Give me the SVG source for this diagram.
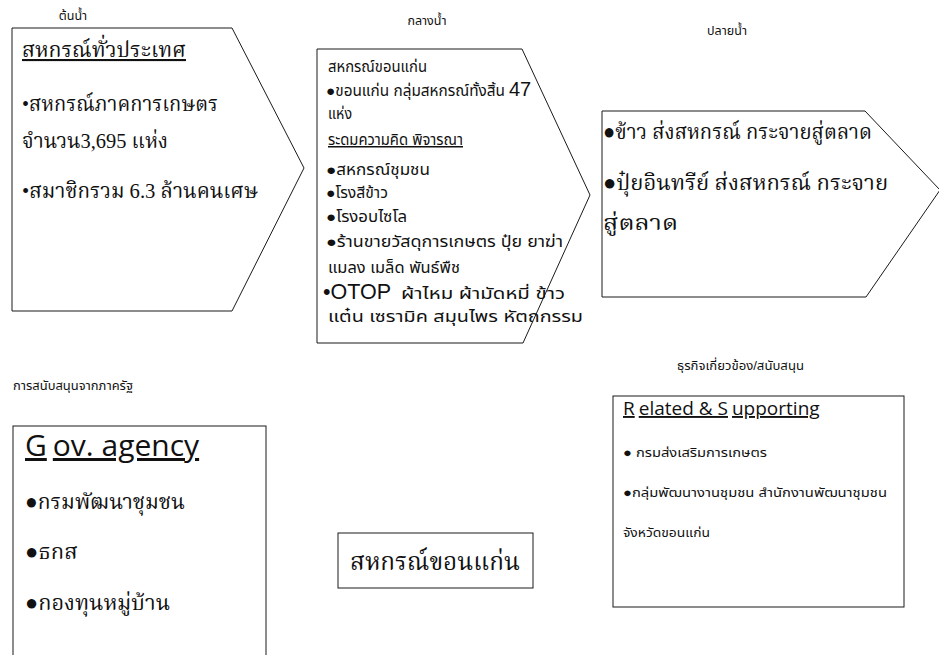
<svg xmlns="http://www.w3.org/2000/svg" width="939" height="655" viewBox="0 0 939 655">
<style>
.shape{fill:#fff;stroke:#1a1a1a;stroke-width:1}
.serif{font-family:"Liberation Serif","Norasi","Noto Serif Thai","Noto Sans",serif;fill:#111}
.sans{font-family:"Liberation Sans","Noto Sans Thai","Noto Sans",sans-serif;fill:#111}
.cal{font-family:"Open Sans","Liberation Sans",sans-serif;fill:#111}
.lbl{font-size:12.5px}
.u{text-decoration:underline}
</style>
<rect width="939" height="655" fill="#fff"/>
<g id="connectors"/>
<g id="upstream">
<text class="sans lbl" x="73" y="20" text-anchor="middle">ต้นน้ำ</text>
<path class="shape" d="M12,28 H232 L304,168 L232,311 H12 Z"/>
<text class="serif u" x="22" y="57" font-size="21" textLength="164" lengthAdjust="spacingAndGlyphs">สหกรณ์ทั่วประเทศ</text>
<text class="serif" x="22" y="111" font-size="21" textLength="196" lengthAdjust="spacingAndGlyphs">•สหกรณ์ภาคการเกษตร</text>
<text class="serif" x="22" y="148" font-size="21" textLength="146" lengthAdjust="spacingAndGlyphs">จำนวน3,695 แห่ง</text>
<text class="serif" x="22" y="198" font-size="21" textLength="236" lengthAdjust="spacingAndGlyphs">•สมาชิกรวม 6.3 ล้านคนเศษ</text>
</g>
<g id="midstream">
<text class="sans lbl" x="427" y="25" text-anchor="middle">กลางน้ำ</text>
<path class="shape" d="M317,49 H522 L590,195 L523,343 H317 Z"/>
<g class="sans" font-size="15">
<text x="328" y="72" textLength="99" lengthAdjust="spacingAndGlyphs">สหกรณ์ขอนแก่น</text>
<text x="326" y="96"><tspan textLength="179" lengthAdjust="spacingAndGlyphs">●ขอนแก่น กลุ่มสหกรณ์ทั้งสิ้น</tspan><tspan x="509" font-size="20">47</tspan></text>
<text x="328" y="119" textLength="24" lengthAdjust="spacingAndGlyphs">แห่ง</text>
<text x="328" y="145" class="u" textLength="135" lengthAdjust="spacingAndGlyphs">ระดมความคิด พิจารณา</text>
<text x="326" y="175" textLength="104" lengthAdjust="spacingAndGlyphs">●สหกรณ์ชุมชน</text>
<text x="326" y="198" textLength="62" lengthAdjust="spacingAndGlyphs">●โรงสีข้าว</text>
<text x="326" y="222" textLength="81" lengthAdjust="spacingAndGlyphs">●โรงอบไซโล</text>
<text x="326" y="247" textLength="237" lengthAdjust="spacingAndGlyphs">●ร้านขายวัสดุการเกษตร ปุ๋ย ยาฆ่า</text>
<text x="328" y="273" textLength="132" lengthAdjust="spacingAndGlyphs">แมลง เมล็ด พันธ์พืช</text>
<text x="323" y="299"><tspan font-size="21.5">•OTOP</tspan><tspan x="401" textLength="164" lengthAdjust="spacingAndGlyphs">ผ้าไหม ผ้ามัดหมี่ ข้าว</tspan></text>
<text x="328" y="322" textLength="255" lengthAdjust="spacingAndGlyphs">แต๋น เซรามิค สมุนไพร หัตถกรรม</text>
</g>
</g>
<g id="downstream">
<text class="sans lbl" x="727" y="35" text-anchor="middle">ปลายน้ำ</text>
<path class="shape" d="M602,111 H865 L940,190 L866,297 H602 Z"/>
<text class="serif" x="603" y="139" font-size="22" textLength="269" lengthAdjust="spacingAndGlyphs">●ข้าว ส่งสหกรณ์ กระจายสู่ตลาด</text>
<text class="serif" x="603" y="190" font-size="22" textLength="285" lengthAdjust="spacingAndGlyphs">●ปุ๋ยอินทรีย์ ส่งสหกรณ์ กระจาย</text>
<text class="serif" x="603" y="230" font-size="22" textLength="75" lengthAdjust="spacingAndGlyphs">สู่ตลาด</text>
</g>
<g id="gov">
<text class="sans lbl" x="13" y="390" textLength="120" lengthAdjust="spacingAndGlyphs">การสนับสนุนจากภาครัฐ</text>
<rect class="shape" x="13" y="426" width="253" height="240"/>
<text class="cal u" x="25" y="456" font-size="30"><tspan>G</tspan><tspan dx="6">ov. agency</tspan></text>
<text class="serif" x="25" y="509" font-size="22" textLength="160" lengthAdjust="spacingAndGlyphs">●กรมพัฒนาชุมชน</text>
<text class="serif" x="25" y="559" font-size="22">●ธกส</text>
<text class="serif" x="25" y="610" font-size="22" textLength="145" lengthAdjust="spacingAndGlyphs">●กองทุนหมู่บ้าน</text>
</g>
<g id="khonkaen">
<rect class="shape" x="338" y="533" width="195" height="55"/>
<text class="serif" x="350" y="570" font-size="25" textLength="170" lengthAdjust="spacingAndGlyphs">สหกรณ์ขอนแก่น</text>
</g>
<g id="related">
<text class="sans lbl" x="677" y="370" textLength="127" lengthAdjust="spacingAndGlyphs">ธุรกิจเกี่ยวข้อง/สนับสนุน</text>
<rect class="shape" x="613" y="396" width="291" height="211"/>
<text class="cal u" x="623" y="415" font-size="19"><tspan>R</tspan><tspan dx="4">elated &amp; S</tspan><tspan dx="4">upporting</tspan></text>
<text class="sans" x="623" y="457" font-size="13" textLength="144" lengthAdjust="spacingAndGlyphs">●  กรมส่งเสริมการเกษตร</text>
<text class="sans" x="623" y="497" font-size="13" textLength="264" lengthAdjust="spacingAndGlyphs">●กลุ่มพัฒนางานชุมชน  สำนักงานพัฒนาชุมชน</text>
<text class="sans" x="623" y="537" font-size="13" textLength="87" lengthAdjust="spacingAndGlyphs">จังหวัดขอนแก่น</text>
</g>
</svg>
